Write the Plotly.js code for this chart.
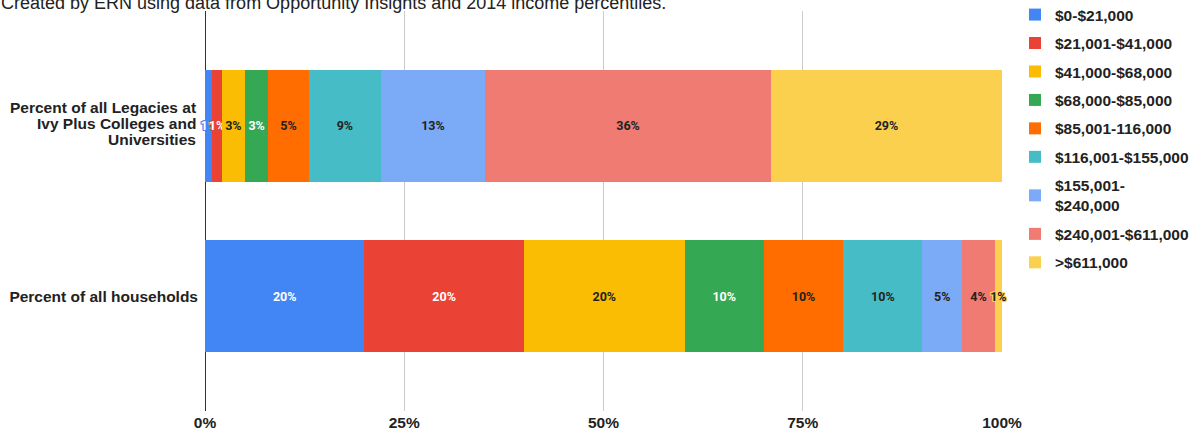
<!DOCTYPE html>
<html>
<head>
<meta charset="utf-8">
<script src="https://cdn.plot.ly/plotly-3.0.1.min.js"></script>
<style>
html,body{margin:0;padding:0;background:#fff;}
#chart{width:1193px;height:435px;}
</style>
</head>
<body>
<div id="chart"></div>
<script>
// ---- data ----
const categories = ["Percent of all households", "Percent of all Legacies at Ivy Plus Colleges and Universities"];
const categoryLabelLines = [["Percent of all households"], ["Percent of all Legacies at", "Ivy Plus Colleges and", "Universities"]];
const brackets = ["$0-$21,000", "$21,001-$41,000", "$41,000-$68,000", "$68,000-$85,000", "$85,001-116,000", "$116,001-$155,000", "$155,001-<br>$240,000", "$240,001-$611,000", ">$611,000"];
const householdShares = [20, 20, 20.2, 9.9, 10, 9.9, 5, 4.1, 0.88];
const legacyShares = [0.92, 1.18, 2.92, 2.92, 5.07, 9.07, 13.05, 35.9, 28.95];
const colors = ["#4285F4", "#EA4335", "#FBBC04", "#34A853", "#FF6D01", "#46BDC6", "#7BAAF7", "#F07B72", "#FCD04F"];
const labelColors = ["#ffffff", "#ffffff", "#222222", "#ffffff", "#222222", "#222222", "#222222", "#222222", "#222222"];
const xTicks = [0, 25, 50, 75, 100];
const xTickText = ["0%", "25%", "50%", "75%", "100%"];
const titleText = "Created by ERN using data from Opportunity Insights and 2014 income percentiles.";

// ---- traces ----
const traces = brackets.map((name, i) => {
  const c = colors[i];
  const halo = `1px 0 0 ${c}, -1px 0 0 ${c}, 0 1px 0 ${c}, 0 -1px 0 ${c}, 1px 1px 0 ${c}, -1px -1px 0 ${c}, 1px -1px 0 ${c}, -1px 1px 0 ${c}`;
  return {
    type: "bar",
    orientation: "h",
    name: name,
    legendgroup: "g" + i,
    y: categories,
    x: [householdShares[i], legacyShares[i]],
    marker: {color: c, line: {width: 0}},
    texttemplate: "%{x:.0f}%",
    textposition: "inside",
    insidetextanchor: "middle",
    constraintext: "none",
    cliponaxis: false,
    textangle: 0,
    textfont: {family: "Roboto, Arial, sans-serif", size: 12.5, weight: 700, color: labelColors[i], shadow: halo},
    hoverinfo: "skip"
  };
});

const axisFont = {family: "Liberation Sans, Arial, sans-serif", size: 15.5, weight: 700, color: "#222"};

const annotations = [];
// title line at the very top of the picture (partly cut off, as in the reference)
annotations.push({
  xref: "paper", yref: "paper",
  x: -205 / 797, y: 1,
  xanchor: "left", yanchor: "middle",
  xshift: -1, yshift: 8,
  text: titleText, showarrow: false,
  font: {family: "Liberation Sans, Arial, sans-serif", size: 18, color: "#222"}
});
// multi-line category label drawn as tight annotations (reference has tight line spacing)
categoryLabelLines.forEach((lines, ci) => {
  if (lines.length < 2) return;
  const n = lines.length;
  lines.forEach((ln, li) => {
    annotations.push({
      xref: "paper", yref: "y",
      x: 0, y: categories[ci],
      xanchor: "right", yanchor: "middle",
      xshift: -7,
      yshift: ((n - 1) / 2 - li) * 16 + 2,
      text: ln, showarrow: false,
      font: axisFont,
      align: "right"
    });
  });
});
const yTickText = categoryLabelLines.map(l => l.length < 2 ? l[0] : "");

const layout = {
  width: 1193,
  height: 435,
  margin: {l: 205, r: 191, t: 11, b: 24, pad: 0, autoexpand: false},
  paper_bgcolor: "#fff",
  plot_bgcolor: "#fff",
  barmode: "stack",
  bargap: 0.345,
  showlegend: true,
  legend: {
    x: 1.0163, xanchor: "left",
    y: 1.0325, yanchor: "top",
    traceorder: "grouped",
    tracegroupgap: 5.3,
    maxheight: 435,
    font: {family: "Liberation Sans, Arial, sans-serif", size: 15.5, weight: 700, color: "#222"},
    bgcolor: "rgba(0,0,0,0)",
    borderwidth: 0
  },
  annotations: annotations,
  xaxis: {
    range: [0, 100],
    tickmode: "array",
    tickvals: xTicks,
    ticktext: xTickText,
    showgrid: true,
    gridcolor: "#cccccc",
    gridwidth: 1,
    zeroline: true,
    zerolinecolor: "#333333",
    zerolinewidth: 1,
    showline: false,
    ticks: "",
    tickfont: axisFont,
    fixedrange: true
  },
  yaxis: {
    type: "category",
    categoryorder: "array",
    categoryarray: categories,
    tickmode: "array",
    tickvals: categories,
    ticktext: yTickText,
    range: [-0.67, 1.67],
    showgrid: false,
    zeroline: false,
    showline: false,
    ticks: "",
    ticklabelstandoff: 6,
    tickfont: axisFont,
    fixedrange: true
  },
  hovermode: false
};

Plotly.newPlot("chart", traces, layout, {staticPlot: true, displayModeBar: false});
</script>
</body>
</html>
